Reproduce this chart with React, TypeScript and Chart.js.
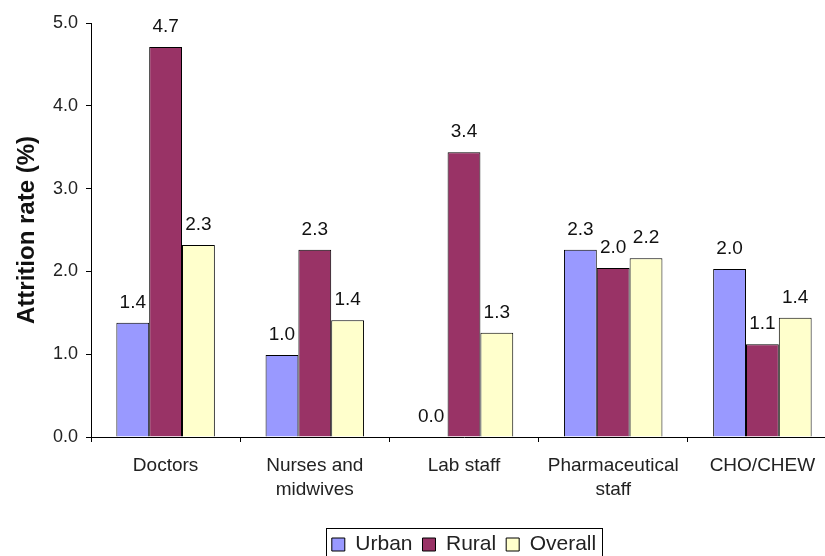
import React, { useEffect, useRef } from "react";
import { Chart, registerables } from "chart.js";

Chart.register(...registerables);

const categories: string[][] = [
  ["Doctors"],
  ["Nurses and", "midwives"],
  ["Lab staff"],
  ["Pharmaceutical", "staff"],
  ["CHO/CHEW"],
];
const urban = [1.38, 0.99, 0.0, 2.26, 2.03];
const rural = [4.71, 2.26, 3.44, 2.04, 1.12];
const overall = [2.32, 1.41, 1.26, 2.16, 1.44];
const seriesNames = ["Urban", "Rural", "Overall"];
const yTicks = [0, 1, 2, 3, 4, 5];

const FONT = "'Liberation Sans', Arial, sans-serif";

const valueLabels = {
  id: "valueLabels",
  afterDatasetsDraw(chart: any) {
    const ctx = chart.ctx;
    ctx.save();
    ctx.font = `19px ${FONT}`;
    ctx.fillStyle = "#111";
    ctx.textAlign = "center";
    ctx.textBaseline = "alphabetic";
    chart.data.datasets.forEach((ds: any, i: number) => {
      const meta = chart.getDatasetMeta(i);
      meta.data.forEach((el: any, j: number) => {
        const v = ds.data[j] as number;
        ctx.fillText(v.toFixed(1), el.x, el.y - 15);
      });
    });
    ctx.restore();
  },
};

const legendBorder = {
  id: "legendBorder",
  afterDraw(chart: any) {
    const lg = chart.legend;
    if (!lg || !lg.legendHitBoxes || !lg.legendHitBoxes.length) return;
    const hb = lg.legendHitBoxes;
    let l = Infinity, r = -Infinity, t = Infinity, b = -Infinity;
    hb.forEach((h: any) => {
      l = Math.min(l, h.left);
      r = Math.max(r, h.left + h.width);
      t = Math.min(t, h.top);
      b = Math.max(b, h.top + h.height);
    });
    const ctx = chart.ctx;
    ctx.save();
    ctx.strokeStyle = "#000";
    ctx.lineWidth = 1;
    ctx.strokeRect(Math.round(l - 6) + 0.5, Math.round(t - 6) + 0.5, Math.round(r - l + 12), Math.round(b - t + 12));
    ctx.restore();
  },
};

export default function App() {
  const ref = useRef<HTMLCanvasElement | null>(null);
  useEffect(() => {
    if (!ref.current) return;
    const chart = new Chart(ref.current, {
      type: "bar",
      data: {
        labels: categories as any,
        datasets: [
          { label: seriesNames[0], data: urban, backgroundColor: "#9999FF", borderColor: "#000", borderWidth: 1 },
          { label: seriesNames[1], data: rural, backgroundColor: "#993366", borderColor: "#000", borderWidth: 1 },
          { label: seriesNames[2], data: overall, backgroundColor: "#FFFFCC", borderColor: "#000", borderWidth: 1 },
        ],
      },
      options: {
        animation: false,
        responsive: true,
        maintainAspectRatio: false,
        layout: { padding: { top: 23, left: 0, right: 8, bottom: 0 } },
        datasets: { bar: { categoryPercentage: 0.66, barPercentage: 1.0 } } as any,
        plugins: {
          tooltip: { enabled: false },
          legend: {
            position: "bottom",
            fullSize: false,
            labels: {
              boxWidth: 13,
              boxHeight: 13,
              padding: 10,
              color: "#222",
              font: { family: FONT, size: 21 },
            },
          },
        },
        scales: {
          x: {
            grid: { display: true, drawOnChartArea: false, drawTicks: true, tickLength: 5, color: "#000", offset: true },
            border: { display: true, color: "#000", width: 1 },
            ticks: { color: "#222", padding: 12, font: { family: FONT, size: 19, lineHeight: 1.25 }, maxRotation: 0, autoSkip: false },
            afterFit: (s: any) => { s.height = 87; },
          },
          y: {
            min: 0,
            max: 5,
            afterBuildTicks: (s: any) => { s.ticks = yTicks.map((v) => ({ value: v })); },
            grid: { display: true, drawOnChartArea: false, drawTicks: true, tickLength: 5, color: "#000" },
            border: { display: true, color: "#000", width: 1 },
            ticks: { color: "#222", padding: 8, font: { family: FONT, size: 18 }, callback: (v: any) => Number(v).toFixed(1) },
            title: { display: true, text: "Attrition rate (%)", color: "#111", font: { family: FONT, size: 24, weight: "bold" }, padding: { top: 13, bottom: 0 } },
            afterFit: (s: any) => { s.width = 91; },
          },
        },
      },
      plugins: [valueLabels, legendBorder],
    });
    return () => chart.destroy();
  }, []);
  return (
    <div style={{ position: "fixed", left: 0, top: 0, width: 845, height: 565, background: "#fff" }}>
      <canvas ref={ref} />
    </div>
  );
}
